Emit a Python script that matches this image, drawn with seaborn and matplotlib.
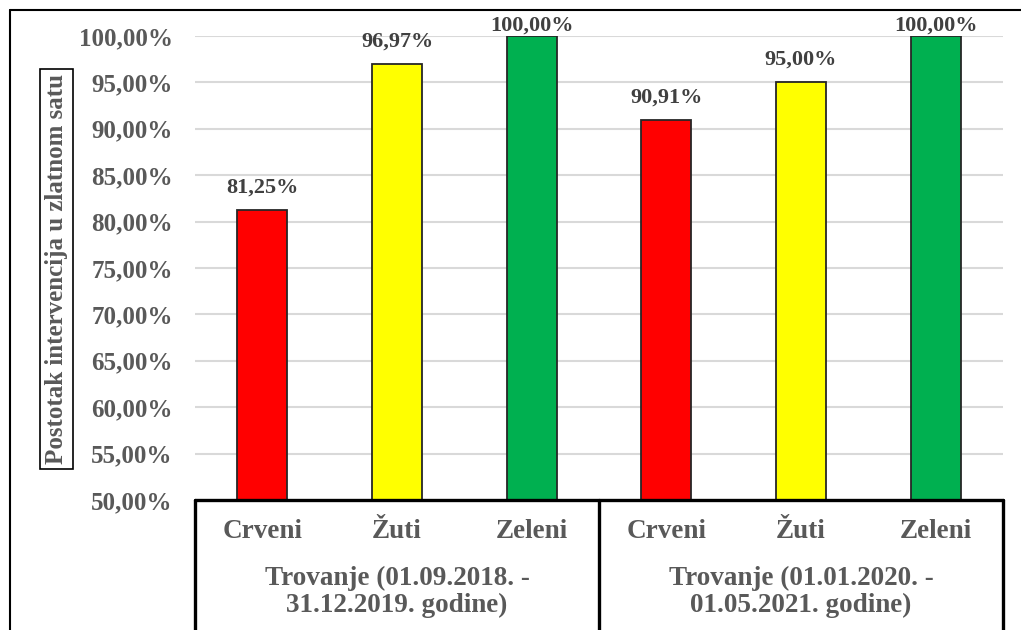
import matplotlib
matplotlib.use("Agg")
import matplotlib.pyplot as plt
import seaborn as sns
import pandas as pd
from matplotlib.lines import Line2D
import matplotlib.transforms as mtransforms

# podaci
periodi = ["Trovanje (01.09.2018. -\n31.12.2019. godine)",
           "Trovanje (01.01.2020. -\n01.05.2021. godine)"]
kategorije = ["Crveni", "Žuti", "Zeleni"]
postoci = [81.25, 96.97, 100.00, 90.91, 95.00, 100.00]
boje = ["#FF0000", "#FFFF00", "#00B050"]
y_ticks = [50, 55, 60, 65, 70, 75, 80, 85, 90, 95, 100]

df = pd.DataFrame({
    "period": [p for p in periodi for _ in kategorije],
    "kategorija": kategorije * len(periodi),
    "postotak": postoci,
})
df["kljuc"] = [f"{i}_{k}" for i, k in enumerate(df["kategorija"])]

sns.set_theme(style="white")
plt.rcParams["font.family"] = ["Liberation Serif", "DejaVu Serif"]
plt.rcParams["font.weight"] = "bold"

siva = "#595959"
fig = plt.figure(figsize=(10.21, 6.3), dpi=100)
ax = fig.add_axes([195 / 1021, 1 - 500 / 630, (1003 - 195) / 1021, (500 - 36) / 630])

sns.barplot(data=df, x="kljuc", y="postotak", hue="kljuc",
            palette=boje * len(periodi), width=0.37, legend=False,
            saturation=1, edgecolor="#262626", linewidth=1.3, ax=ax, zorder=3)

ax.set_ylim(50, 100)
ax.set_xlim(-0.5, len(df) - 0.5)
ax.set_yticks(y_ticks)
ax.set_yticklabels([f"{v:.2f}".replace(".", ",") + "%" for v in y_ticks],
                   fontsize=18, color=siva, fontweight="bold")
ax.tick_params(axis="y", length=0, pad=16)
ax.yaxis.grid(True, color="#D9D9D9", linewidth=1.5, zorder=0)
ax.set_axisbelow(True)
ax.set_xticks([])
ax.set_xlabel("")
ax.set_ylabel("")
for s in ax.spines.values():
    s.set_visible(False)

# oznake vrijednosti
for i, v in enumerate(df["postotak"]):
    off = 0 if v >= 100 else 9
    ax.annotate(f"{v:.2f}".replace(".", ",") + "%", (i, v),
                xytext=(0, off), textcoords="offset points",
                ha="center", va="bottom", fontsize=16,
                color="#404040", fontweight="bold", annotation_clip=False)

# kategorije i periodi ispod osi
tr = mtransforms.blended_transform_factory(ax.transData, ax.transAxes)
h = (500 - 36)
for i, k in enumerate(df["kategorija"]):
    ax.text(i, -32 / h, k, transform=tr, ha="center", va="center",
            fontsize=19.5, color=siva, fontweight="bold")
for j, p in enumerate(periodi):
    ax.text(j * 3 + 1, -92 / h, p, transform=tr, ha="center", va="center",
            fontsize=19.5, color=siva, fontweight="bold", linespacing=1.1)

# okvir kategorija
lw = 2.4
ax.add_line(Line2D([-0.5, len(df) - 0.5], [0, 0], transform=tr,
                   color="black", lw=lw, clip_on=False, zorder=5))
for xv in [-0.5, 2.5, len(df) - 0.5]:
    ax.add_line(Line2D([xv, xv], [0, -140 / h], transform=tr,
                       color="black", lw=lw, clip_on=False, zorder=5))

# naslov osi y u okviru
fig.text(56 / 1021, 1 - 269 / 630, "Postotak intervencija u zlatnom satu",
         rotation=90, ha="center", va="center", fontsize=18, color=siva,
         fontweight="bold",
         bbox=dict(boxstyle="square,pad=0.2", facecolor="white",
                   edgecolor="black", linewidth=1.2))

# vanjski okvir
fig.add_artist(Line2D([10 / 1021, 10 / 1021], [0, 1 - 10 / 630],
                      transform=fig.transFigure, color="black", lw=1.5))
fig.add_artist(Line2D([10 / 1021, 1], [1 - 10 / 630, 1 - 10 / 630],
                      transform=fig.transFigure, color="black", lw=1.5))

fig.savefig("out.png", dpi=100)
